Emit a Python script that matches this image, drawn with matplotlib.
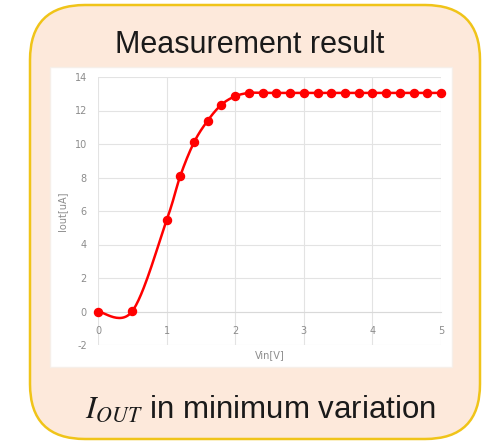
import numpy as np
import matplotlib
matplotlib.use("Agg")
import matplotlib.pyplot as plt
from matplotlib.patches import FancyBboxPatch, Rectangle

plt.rcParams["axes.unicode_minus"] = False

# measured points (Vin [V], Iout [uA])
vin = [0.0, 0.5, 1.0, 1.2, 1.4, 1.6, 1.8, 2.0, 2.2, 2.4, 2.6, 2.8, 3.0,
       3.2, 3.4, 3.6, 3.8, 4.0, 4.2, 4.4, 4.6, 4.8, 5.0]
iout = [0.0, 0.02, 5.45, 8.1, 10.1, 11.4, 12.35, 12.85, 13.05, 13.05, 13.05,
        13.05, 13.05, 13.05, 13.05, 13.05, 13.05, 13.05, 13.05, 13.05, 13.05,
        13.05, 13.05]

x_ticks = [0, 1, 2, 3, 4, 5]
y_ticks = [-2, 0, 2, 4, 6, 8, 10, 12, 14]

title = "Measurement result"
caption = r"$I_{OUT}$ in minimum variation"
x_label = "Vin[V]"
y_label = "Iout[uA]"


# Excel style smoothed line (Catmull-Rom -> cubic bezier)
def smooth_line(xs, ys, n=30):
    p = np.column_stack([xs, ys]).astype(float)
    out = [p[0]]
    for i in range(len(p) - 1):
        p0 = p[i - 1] if i > 0 else p[i]
        p1 = p[i]
        p2 = p[i + 1]
        p3 = p[i + 2] if i + 2 < len(p) else p[i + 1]
        c1 = p1 + (p2 - p0) / 6
        c2 = p2 - (p3 - p1) / 6
        t = np.linspace(0, 1, n)[1:, None]
        seg = ((1 - t) ** 3) * p1 + 3 * ((1 - t) ** 2) * t * c1 \
            + 3 * (1 - t) * t ** 2 * c2 + t ** 3 * p2
        out.extend(seg)
    out = np.array(out)
    return out[:, 0], out[:, 1]


W, H = 485, 442
fig = plt.figure(figsize=(W / 100, H / 100), dpi=100)
fig.patch.set_facecolor("white")

# background panel
bg = fig.add_axes([0, 0, 1, 1])
bg.set_xlim(0, W)
bg.set_ylim(H, 0)
bg.axis("off")
panel = FancyBboxPatch((30, 5), 450, 434, boxstyle="round,pad=0,rounding_size=55",
                       facecolor="#fde9db", edgecolor="#f0c419", linewidth=1.8)
bg.add_patch(panel)
bg.add_patch(Rectangle((50, 67), 402, 300, facecolor="white", edgecolor="#f6efe9",
                       linewidth=1.0))
bg.text(250, 53, title, fontsize=22, family="Liberation Sans", color="#1a1a1a",
        ha="center", va="baseline")
bg.text(260, 418, caption, fontsize=22.5, family="Liberation Sans", color="#1a1a1a",
        ha="center", va="baseline", math_fontfamily="stix")

# chart
left, right, top, bottom = 98, 441, 77, 345
ax = fig.add_axes([left / W, 1 - bottom / H, (right - left) / W, (bottom - top) / H])
ax.set_facecolor("white")
ax.set_xlim(0, 5)
ax.set_ylim(-2, 14)
ax.set_xticks(x_ticks)
ax.set_yticks(y_ticks)
ax.grid(True, color="#e3e3e3", linewidth=0.8)
ax.set_axisbelow(True)
for s in ["top", "right", "left"]:
    ax.spines[s].set_visible(False)
ax.spines["bottom"].set_position(("data", 0))
ax.spines["bottom"].set_color("#d9d9d9")
ax.spines["bottom"].set_linewidth(0.8)
ax.tick_params(length=0, labelsize=7, colors="#8c8c8c")
ax.tick_params(axis="x", pad=10.5)
ax.tick_params(axis="y", pad=8)
ax.set_xlabel(x_label, fontsize=7, color="#8c8c8c")
ax.xaxis.set_label_coords(0.5, -0.02)
ax.set_ylabel(y_label, fontsize=7, color="#8c8c8c", labelpad=5)

sx, sy = smooth_line(vin, iout)
ax.plot(sx, sy, color="#ff0000", linewidth=1.8, zorder=3)
ax.plot(vin, iout, linestyle="none", marker="o", markersize=5.8,
        color="#ff0000", zorder=4, clip_on=False)

fig.savefig("out.png", dpi=100)
